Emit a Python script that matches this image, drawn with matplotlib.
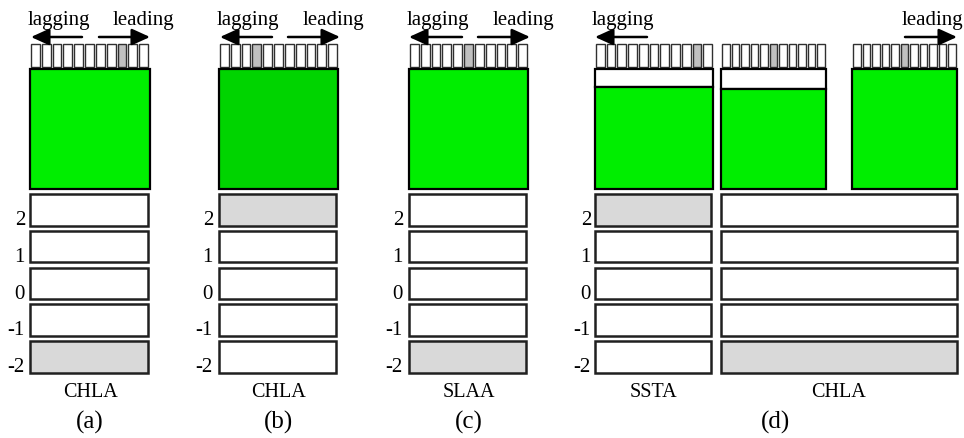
import matplotlib
matplotlib.use("Agg")
import matplotlib.pyplot as plt
from matplotlib.patches import Rectangle

# ---- data ----
panel_letters = ["(a)", "(b)", "(c)", "(d)"]
row_labels = ["2", "1", "0", "-1", "-2"]
n_cells = 11
# index of the highlighted lag cell for each strip: a, b, c, d1(SSTA), d2, d3
strip_shaded = [8, 3, 5, 9, 5, 5]
# highlighted row per column block: a, b, c, d-SSTA, d-CHLA
shaded_rows = ["-2", "2", "-2", "2", "-2"]
column_names = ["CHLA", "CHLA", "SLAA", "SSTA", "CHLA"]
# fraction of the big box left white at the top (panel d columns)
white_frac_d = [0.15, 0.167, 0.0]

# ---- style ----
FONT = "Liberation Serif"
GREEN = "#00ee00"
GREEN_B = "#00d400"
ROW_GRAY = "#d9d9d9"
CELL_GRAY = "#c0c0c0"

fig = plt.figure(figsize=(9.64, 4.39), dpi=100)
ax = fig.add_axes([0, 0, 1, 1])
ax.set_xlim(0, 964)
ax.set_ylim(439, 0)
ax.axis("off")

STRIP_Y, STRIP_H = 45, 23
BOX_Y, BOX_H = 70, 120
ROW_Y0, ROW_STEP, ROW_H = 195, 36.8, 31.5


def strip(x0, x1, shaded):
    w = (x1 - x0) / n_cells
    for i in range(n_cells):
        fc = CELL_GRAY if i == shaded else "white"
        ax.add_patch(Rectangle((x0 + i * w + 1, STRIP_Y), w - 2, STRIP_H,
                               facecolor=fc, edgecolor="#303030", lw=1.0))


def big_box(x0, x1, green, white_frac=0.0):
    if white_frac > 0:
        hw = BOX_H * white_frac
        ax.add_patch(Rectangle((x0, BOX_Y), x1 - x0, hw, facecolor="white",
                               edgecolor="black", lw=1.6))
        ax.add_patch(Rectangle((x0, BOX_Y + hw), x1 - x0, BOX_H - hw,
                               facecolor=green, edgecolor="black", lw=1.6))
    else:
        ax.add_patch(Rectangle((x0, BOX_Y), x1 - x0, BOX_H, facecolor=green,
                               edgecolor="black", lw=1.6))


def rows(x0, x1, shaded_label):
    for i, lab in enumerate(row_labels):
        fc = ROW_GRAY if lab == shaded_label else "white"
        ax.add_patch(Rectangle((x0, ROW_Y0 + i * ROW_STEP), x1 - x0, ROW_H,
                               facecolor=fc, edgecolor="#202020", lw=1.8))


def row_numbers(xr):
    for i, lab in enumerate(row_labels):
        ax.text(xr, ROW_Y0 + i * ROW_STEP + ROW_H - 6, lab, ha="right",
                va="center", fontsize=15, family=FONT)


def arrow(x_from, x_to, y=38):
    ax.annotate("", xy=(x_to, y), xytext=(x_from, y),
                arrowprops=dict(arrowstyle="-|>,head_length=1.1,head_width=0.5",
                                color="black", lw=1.8, shrinkA=0, shrinkB=0))


def label(x, y, s, size):
    ax.text(x, y, s, ha="center", va="center", fontsize=size, family=FONT)


# panels a, b, c
abc = [(30, 149, 30, 150, 27), (219, 338, 219, 338, 215), (409, 528, 409, 528, 405)]
arrows_abc = [((82, 31), (99, 150), 59, 143),
              ((272, 220), (288, 340), 248, 333),
              ((462, 409), (478, 530), 438, 523)]
for k, (sx0, sx1, bx0, bx1, lx) in enumerate(abc):
    strip(sx0, sx1, strip_shaded[k])
    big_box(bx0, bx1, GREEN_B if k == 1 else GREEN)
    rows(bx0, bx1 - 2, shaded_rows[k])
    row_numbers(lx - 2)
    (l0, l1), (r0, r1), tl, tr = arrows_abc[k]
    arrow(l0, l1)
    arrow(r0, r1)
    label(tl, 20, "lagging", 15)
    label(tr, 20, "leading", 15)
    label((bx0 + bx1) / 2, 393, column_names[k], 14.5)
    label((bx0 + bx1) / 2, 422, panel_letters[k], 18)

# panel d
d_cols = [(595, 713), (721, 826), (852, 957)]
for j, (x0, x1) in enumerate(d_cols):
    strip(x0, x1, strip_shaded[3 + j])
    big_box(x0, x1, GREEN, white_frac_d[j])
rows(595, 711, shaded_rows[3])
rows(721, 957, shaded_rows[4])
row_numbers(591)
arrow(647, 595)
arrow(905, 957)
label(623, 20, "lagging", 15)
label(932, 20, "leading", 15)
label(653, 393, column_names[3], 14.5)
label(838, 393, column_names[4], 14.5)
label(775, 422, panel_letters[3], 18)

fig.savefig("out.png", dpi=100)
